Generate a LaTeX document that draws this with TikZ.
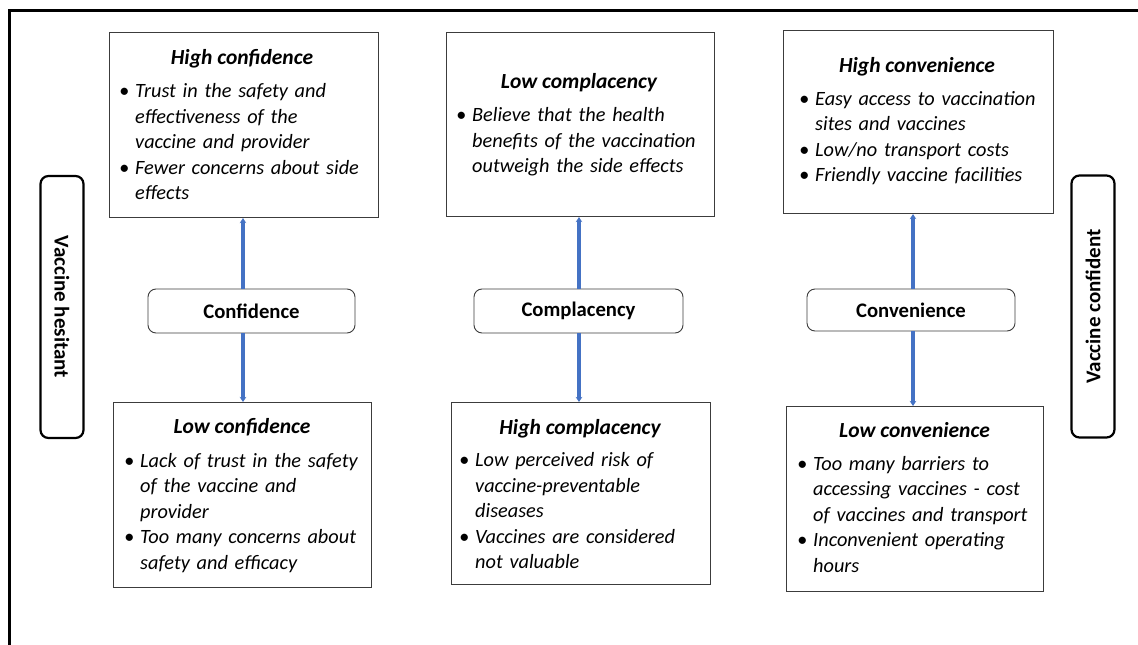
\documentclass[tikz,border=0pt]{standalone}
\usepackage{fontspec}
\setmainfont{Carlito}
\usetikzlibrary{arrows.meta}
\definecolor{arrowblue}{RGB}{68,114,196}
\definecolor{boxgray}{RGB}{60,60,60}
\newlength{\bhang}
\setlength{\bhang}{16pt}
\newcommand{\bitem}[1]{\hangindent=\bhang\hangafter=1\noindent\makebox[\bhang][l]{\textbullet}#1\par}
\newcommand{\fst}{\rule{0pt}{18pt}}
\tikzset{
  panel/.style={draw=boxgray, line width=1.1pt, fill=white, inner sep=0pt, anchor=north west},
  ttl/.style={anchor=base, inner sep=0pt, font=\fontsize{21.5}{25}\selectfont\bfseries\itshape},
  lst/.style={anchor=north west, inner sep=0pt, text width=300pt, font=\fontsize{20.3}{25.5}\selectfont\itshape},
  dim/.style={draw=boxgray, line width=0.9pt, rounded corners=8pt, fill=white, inner sep=0pt,
    font=\fontsize{20.7}{24}\selectfont\bfseries},
  sidebox/.style={draw=black, line width=2.2pt, rounded corners=8pt, inner sep=0pt,
    minimum width=262pt, minimum height=43pt, font=\fontsize{21}{24}\selectfont\bfseries},
  conn/.style={draw=arrowblue, line width=3.5pt, -{Stealth[length=5pt,width=6.5pt]}},
  frame/.style={draw=black, line width=3pt}
}
\begin{document}
\begin{tikzpicture}[x=1pt,y=-1pt]
\useasboundingbox (0,0) rectangle (1138,645);
\fill[white] (0,0) rectangle (1138,645);
\draw[frame] (9,646) -- (9,10) -- (1139,10);

% side labels
\node[sidebox, rotate=-90] (hes) at (62,307) {Vaccine hesitant};
\node[sidebox, rotate=90] (conf) at (1093,306.5) {Vaccine confident};

% ---- Confidence column
\node[panel, minimum width=269pt, minimum height=185pt] (hcb) at (109,32) {};
\node[ttl] (hct) at (242,64) {High confidence};
\node[lst] (hcl) at (119,79.3) {%
\bitem{\fst Trust in the safety and\newline effectiveness of the\newline vaccine and provider}%
\bitem{Fewer concerns about side\newline effects}};

\node[dim, minimum width=207pt, minimum height=44pt] (cdim) at (251.5,311) {Confidence};

\node[panel, minimum width=258pt, minimum height=185pt] (lcb) at (113,402) {};
\node[ttl] (lct) at (242,433) {Low confidence};
\node[lst] (lcl) at (124,449) {%
\bitem{\fst Lack of trust in the safety\newline of the vaccine and\newline provider}%
\bitem{Too many concerns about\newline safety and efficacy}};

% ---- Complacency column
\node[panel, minimum width=268pt, minimum height=184pt] (lpb) at (446,32) {};
\node[ttl] (lpt) at (579,88) {Low complacency};
\node[lst] (lpl) at (456,103.5) {%
\bitem{\fst Believe that the health\newline benefits of the vaccination\newline outweigh the side effects}};

\node[dim, minimum width=209pt, minimum height=44pt] (pdim) at (578.5,311) {Complacency};

\node[panel, minimum width=259pt, minimum height=182pt] (hpb) at (451,402) {};
\node[ttl] (hpt) at (580,434) {High complacency};
\node[lst] (hpl) at (459,448.5) {%
\bitem{\fst Low perceived risk of\newline vaccine-preventable\newline diseases}%
\bitem{Vaccines are considered\newline not valuable}};

% ---- Convenience column
\node[panel, minimum width=270pt, minimum height=183pt] (hvb) at (783,30) {};
\node[ttl] (hvt) at (917,72) {High convenience};
\node[lst] (hvl) at (799,87) {%
\bitem{\fst Easy access to vaccination\newline sites and vaccines}%
\bitem{Low/no transport costs}%
\bitem{Friendly vaccine facilities}};

\node[dim, minimum width=208pt, minimum height=42pt] (vdim) at (911,310) {Convenience};

\node[panel, minimum width=257pt, minimum height=185pt] (lvb) at (786,406) {};
\node[ttl] (lvt) at (914.5,437) {Low convenience};
\node[lst] (lvl) at (797,452) {%
\bitem{\fst Too many barriers to\newline accessing vaccines - cost\newline of vaccines and transport}%
\bitem{Inconvenient operating\newline hours}};

% ---- connectors
\coordinate (ax1) at (243,0);
\coordinate (ax2) at (579,0);
\coordinate (ax3) at (913,0);
\draw[conn] (cdim.north -| ax1) -- (hcb.south -| ax1);
\draw[conn] (cdim.south -| ax1) -- (lcb.north -| ax1);
\draw[conn] (pdim.north -| ax2) -- (lpb.south -| ax2);
\draw[conn] (pdim.south -| ax2) -- (hpb.north -| ax2);
\draw[conn] (vdim.north -| ax3) -- (hvb.south -| ax3);
\draw[conn] (vdim.south -| ax3) -- (lvb.north -| ax3);
\end{tikzpicture}
\end{document}
